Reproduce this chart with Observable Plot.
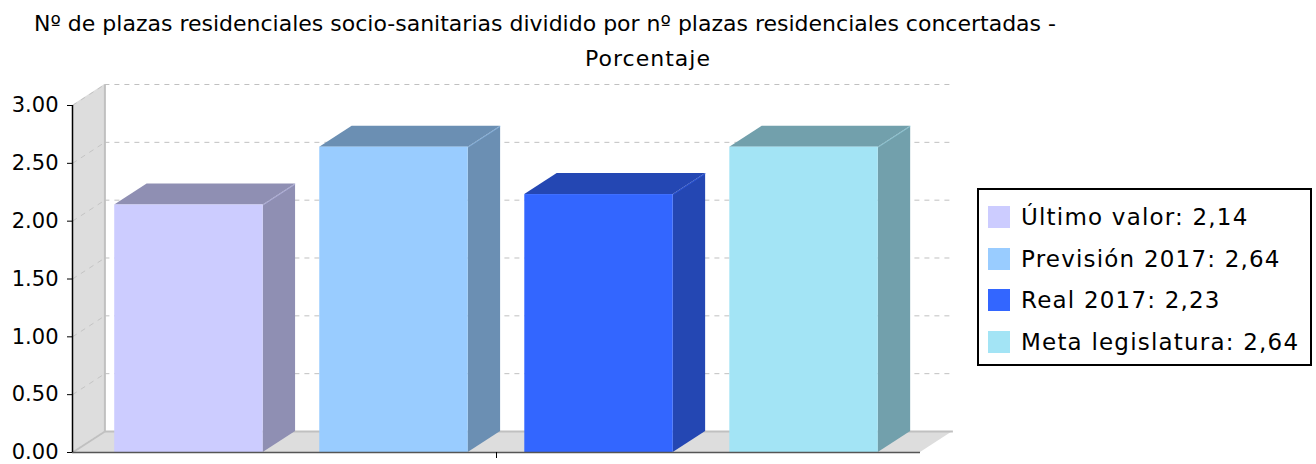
<!DOCTYPE html>
<html>
<head>
<meta charset="utf-8">
<script src="https://cdn.jsdelivr.net/npm/d3@7"></script>
<script src="https://cdn.jsdelivr.net/npm/@observablehq/plot@0.6"></script>
<style>
  html, body { margin: 0; padding: 0; background: #fff; }
  #page { position: relative; width: 1316px; height: 464px; overflow: hidden; font-family: "DejaVu Sans", sans-serif; color: #000; }
  .title { position: absolute; white-space: nowrap; font-size: 22px; line-height: 22px; transform: translateX(-50%); }
  #chart { position: absolute; left: 0; top: 70px; }
  #legend { position: absolute; left: 977px; top: 188px; width: 331px; height: 174px; border: 2px solid #000; background: #fff; }
  .item { position: absolute; left: 9px; height: 24px; display: flex; align-items: center; font-size: 23px; letter-spacing: 1.2px; white-space: nowrap; }
  .sw { width: 22px; height: 22px; margin-right: 11px; flex: none; }
</style>
</head>
<body>
<div id="page">
  <div class="title" id="t1" style="left:545px; top:13px;"></div>
  <div class="title" id="t2" style="left:648px; top:48px; letter-spacing:1px;"></div>
  <div id="chart"></div>
  <div id="legend"></div>
</div>
<script>
// ---- data ----
const titleLines = ["Nº de plazas residenciales socio-sanitarias dividido por nº plazas residenciales concertadas -", "Porcentaje"];
const seriesNames = ["Último valor", "Previsión 2017", "Real 2017", "Meta legislatura"];
const seriesValues = [2.14, 2.64, 2.23, 2.64];
const valueLabels = ["2,14", "2,64", "2,23", "2,64"];
const yTicks = [0, 0.5, 1, 1.5, 2, 2.5, 3];
const yTickLabels = ["0.00", "0.50", "1.00", "1.50", "2.00", "2.50", "3.00"];
const seriesColors = ["#CCCCFF", "#99CCFF", "#3366FF", "#A3E4F5"];

// ---- layout (style) constants ----
const axisMargin = 0.068;   // category axis margin, in series-slot units
const barGap = 0.138;       // gap each side of a bar, in slot units
const depthX = 0.158;       // 3D depth, slot units
const depthY = 0.1816;      // 3D depth, value units
const yMax = 3;
const darker = c => { const r = d3.rgb(c); return d3.rgb(r.r * 0.7, r.g * 0.7, r.b * 0.7).formatHex(); };

document.getElementById("t1").textContent = titleLines[0];
document.getElementById("t2").textContent = titleLines[1];

const n = seriesNames.length;
const x0 = -axisMargin, xEnd = n + axisMargin;

const bars = seriesNames.map((name, i) => ({
  i, name, value: seriesValues[i],
  x1: i + barGap, x2: i + 1 - barGap,
  front: seriesColors[i], side: darker(seriesColors[i])
}));
const sideFaces = bars.flatMap(b => [
  {id: b.i, x: b.x2, y1: 0, y2: b.value, fill: b.side},
  {id: b.i, x: b.x2 + depthX, y1: depthY, y2: b.value + depthY, fill: b.side}
]);
const topFaces = bars.flatMap(b => [
  {id: b.i, y: b.value, x1: b.x1, x2: b.x2, fill: b.side},
  {id: b.i, y: b.value + depthY, x1: b.x1 + depthX, x2: b.x2 + depthX, fill: b.side}
]);
const edgeLinks = bars.map(b => ({x1: b.x2, y1: b.value, x2: b.x2 + depthX, y2: b.value + depthY, stroke: b.front}));

const wall = [
  {x: x0, y1: 0, y2: yMax},
  {x: x0 + depthX, y1: depthY, y2: yMax + depthY}
];
const floor = [
  {y: 0, x1: x0, x2: xEnd},
  {y: depthY, x1: x0 + depthX, x2: xEnd + depthX}
];
const wallEdges = [
  {x1: x0 + depthX, y1: depthY, x2: x0 + depthX, y2: yMax + depthY},
  {x1: x0 + depthX, y1: depthY, x2: xEnd + depthX, y2: depthY},
  {x1: x0, y1: 0, x2: x0 + depthX, y2: depthY}
];
const gridTicks = yTicks.filter(v => v > 0);

const chart = Plot.plot({
  width: 1316,
  height: 394,
  marginTop: 35,
  marginBottom: 12,
  marginLeft: 72,
  marginRight: 396,
  style: {fontFamily: "DejaVu Sans, sans-serif", fontSize: "21px", color: "#000", background: "transparent", overflow: "visible"},
  x: {domain: [x0, xEnd], axis: null},
  y: {domain: [0, yMax], axis: null},
  color: {type: "identity"},
  marks: [
    // back wall and floor
    Plot.areaY(wall, {x: "x", y1: "y1", y2: "y2", fill: "#DDDDDD", curve: "linear"}),
    Plot.areaX(floor, {y: "y", x1: "x1", x2: "x2", fill: "#DDDDDD", curve: "linear"}),
    // gridlines
    Plot.ruleY(gridTicks, {y: d => d + depthY, x1: x0 + depthX, x2: xEnd + depthX, stroke: "#C0C0C0", strokeWidth: 1, strokeDasharray: "5,5"}),
    Plot.link(gridTicks, {x1: x0, y1: d => d, x2: x0 + depthX, y2: d => d + depthY, stroke: "#C4C4C4", strokeWidth: 1, strokeDasharray: "5,5"}),
    Plot.link(wallEdges, {x1: "x1", y1: "y1", x2: "x2", y2: "y2", stroke: "#C0C0C0", strokeWidth: 2}),
    // bars
    Plot.areaY(sideFaces, {x: "x", y1: "y1", y2: "y2", z: "id", fill: "fill", curve: "linear"}),
    Plot.areaX(topFaces, {y: "y", x1: "x1", x2: "x2", z: "id", fill: "fill", curve: "linear"}),
    Plot.link(edgeLinks, {x1: "x1", y1: "y1", x2: "x2", y2: "y2", stroke: "stroke", strokeWidth: 0.8, strokeOpacity: 0.6}),
    Plot.rect(bars, {x1: "x1", x2: "x2", y1: 0, y2: "value", fill: "front", inset: 0}),
    // axes
    Plot.ruleY([0], {x1: x0, x2: xEnd, stroke: "#555555", strokeWidth: 1.5}),
    Plot.ruleX([x0], {y1: 0, y2: yMax, stroke: "#000", strokeWidth: 1.5}),
    Plot.axisY(yTicks, {anchor: "left", tickSize: 5, tickPadding: 9, tickFormat: (d, i) => yTickLabels[yTicks.indexOf(d)], fontSize: 21, stroke: "#000"}),
    Plot.axisX([(x0 + xEnd) / 2], {anchor: "bottom", tickSize: 6, tickFormat: () => "", stroke: "#000"})
  ]
});
document.getElementById("chart").appendChild(chart);

// legend
const legend = document.getElementById("legend");
seriesNames.forEach((name, i) => {
  const item = document.createElement("div");
  item.className = "item";
  item.style.top = (15 + i * 41.7) + "px";
  const sw = document.createElement("span");
  sw.className = "sw";
  sw.style.background = seriesColors[i];
  const label = document.createElement("span");
  label.textContent = name + ": " + valueLabels[i];
  item.appendChild(sw);
  item.appendChild(label);
  legend.appendChild(item);
});
</script>
</body>
</html>
